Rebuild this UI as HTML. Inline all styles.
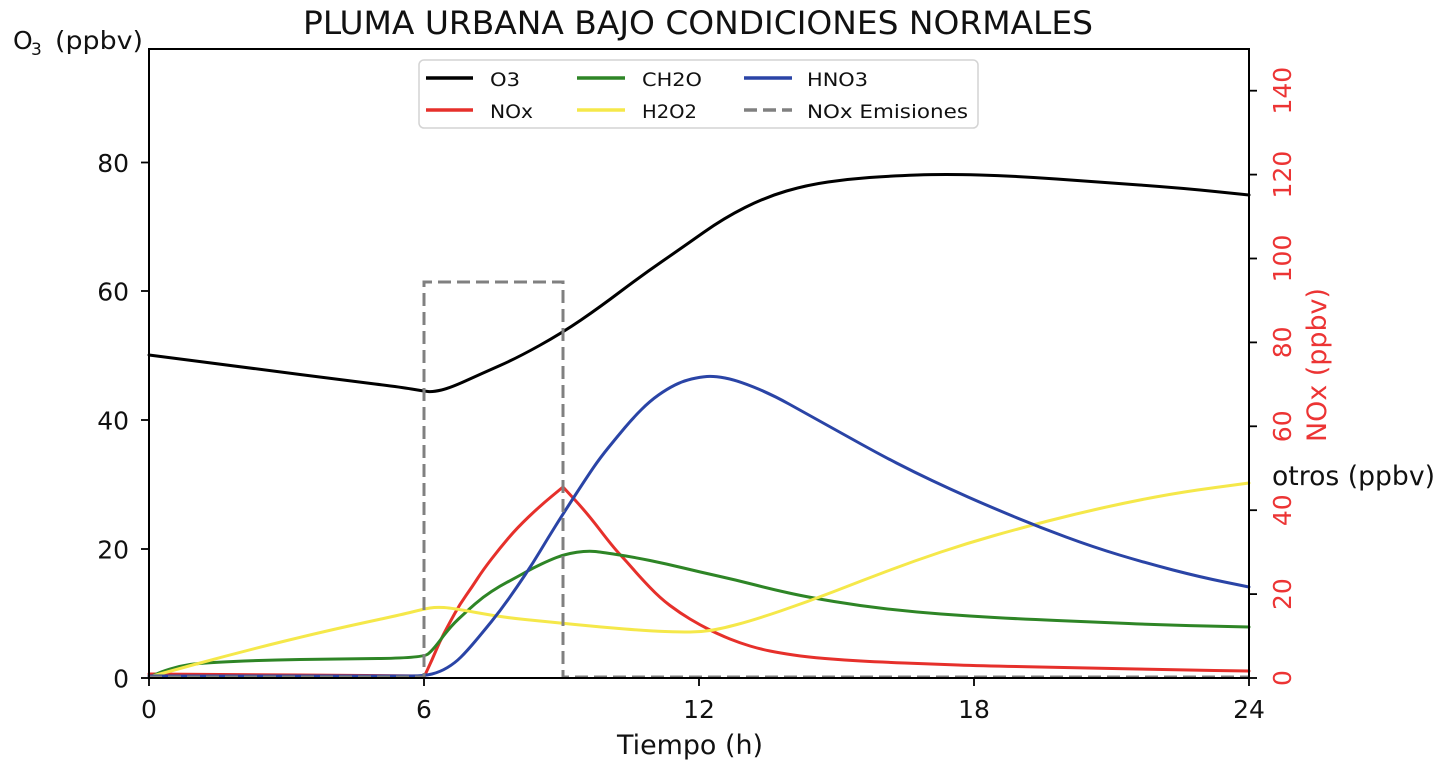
<!DOCTYPE html>
<html><head><meta charset="utf-8"><style>
html,body{margin:0;padding:0;background:#fff;}
svg{display:block;}
text{font-family:"DejaVu Sans","Liberation Sans",sans-serif;}
</style></head><body>
<svg width="1445" height="771" viewBox="0 0 1445 771" xmlns="http://www.w3.org/2000/svg">
<rect width="1445" height="771" fill="#fff"/>
<!-- title -->
<text x="303" y="34" font-size="32" fill="#111" textLength="790" lengthAdjust="spacingAndGlyphs">PLUMA URBANA BAJO CONDICIONES NORMALES</text>
<!-- y label left -->
<text x="13" y="49" font-size="25" fill="#111">O</text>
<text x="31" y="55" font-size="17" fill="#111">3</text>
<text x="55" y="49" font-size="25" fill="#111" textLength="88" lengthAdjust="spacingAndGlyphs">(ppbv)</text>

<g fill="none" stroke-linejoin="round" stroke-linecap="round" stroke-width="3">
<!-- O3 -->
<path stroke="#000" d="M149,355 L199.5,361.5 Q250,368 300,374.5 Q350,381 375,384 Q400,387 411.5,389 Q423,391 428,391.5 Q433,392 441.5,390 Q450,388 466.5,380.5 Q483,373 500,365.5 Q517,358 539.5,345.5 Q562,333 581,320 Q600,307 620.5,291.5 Q641,276 662,261.5 Q683,247 703.5,232.5 Q724,218 745,207.5 Q766,197 786.5,191 Q807,185 828,182 Q849,179 869.5,177.5 Q890,176 917,175 Q944,174 979.5,175 Q1015,176 1056.5,179 Q1098,182 1139.5,185 Q1181,188 1215,191.5 L1249,195"/>
<!-- NOx -->
<path stroke="#e6302b" d="M149,674 L300,675 L423,676 L424,677 L428,668.5 Q432,660 436,650.5 Q440,641 445,631.5 Q450,622 455,613 Q460,604 466,595.5 Q472,587 477.5,578.5 Q483,570 491.5,559 Q500,548 508.5,538 Q517,528 528.5,517 Q540,506 551.5,496.5 L563,487 L575,500 Q587,513 600,530 Q613,547 620,554.5 Q627,562 633.5,569.5 Q640,577 650,587.5 Q660,598 670,605.5 Q680,613 690,619 Q700,625 710,630 Q720,635 730,639 Q740,643 750,646 Q760,649 770,651 Q780,653 793.5,655 Q807,657 825,658.5 Q843,660 861,661 Q879,662 904.5,663 Q930,664 958,665 Q986,666 1039.5,667 Q1093,668 1136.5,669 Q1180,670 1214.5,670.5 L1249,671"/>
<!-- CH2O -->
<path stroke="#2e8526" d="M149,678 L154.5,675 Q160,672 170,669 Q180,666 190,664.5 Q200,663 233.5,661.5 Q267,660 300,659.5 Q333,659 378,658.5 Q423,658 428,654 Q433,650 441.5,638.5 Q450,627 458.5,619 Q467,611 475,604 Q483,597 491.5,591.5 Q500,586 508.5,581.5 Q517,577 525,572.5 Q533,568 541.5,564 Q550,560 556.5,557.5 Q563,555 570,553.5 Q577,552 583.5,551.5 Q590,551 595,551.5 Q600,552 616.5,554.5 Q633,557 650,560.5 Q667,564 683.5,568 Q700,572 718,576 Q736,580 753.5,584.5 Q771,589 789,593 Q807,597 834,601.5 Q861,606 887.5,609 Q914,612 941,614 Q968,616 994.5,617.5 Q1021,619 1057,620.5 Q1093,622 1128.5,623.5 Q1164,625 1206.5,626 L1249,627"/>
<!-- H2O2 -->
<path stroke="#f5e84a" d="M149,677 L194.5,664.5 Q240,652 285,641 Q330,630 365,622.5 Q400,615 412,612 Q424,609 430,608 Q436,607 444,607.5 Q452,608 476,612.5 Q500,617 525,619.5 Q550,622 575,624.5 Q600,627 625,629 Q650,631 665,631.5 Q680,632 690,632 Q700,632 710,630.5 Q720,629 737,624.5 Q754,620 780.5,611 Q807,602 834,591.5 Q861,581 887.5,571 Q914,561 941,552 Q968,543 994.5,535.5 Q1021,528 1048,521 Q1075,514 1102,508 Q1129,502 1155.5,497 Q1182,492 1215.5,487.5 L1249,483"/>
<!-- HNO3 -->
<path stroke="#2a44a6" d="M149,676 L412,676 Q424,676 432,674 Q440,672 447.5,667.5 Q455,663 461,657 Q467,651 475,641.5 Q483,632 491.5,621.5 Q500,611 508.5,599 Q517,587 525,575 Q533,563 540.5,550.5 Q548,538 555.5,526 Q563,514 575,495.5 Q587,477 593.5,467.5 Q600,458 608.5,447.5 Q617,437 625,427.5 Q633,418 641.5,409.5 Q650,401 658.5,395 Q667,389 675,385 Q683,381 691.5,379 Q700,377 707,376.5 Q714,376 725,378 Q736,380 753.5,387 Q771,394 789,404 Q807,414 825,424 Q843,434 861,444 Q879,454 896.5,463 Q914,472 932,480.5 Q950,489 968,497 Q986,505 1012.5,516 Q1039,527 1066,537 Q1093,547 1119.5,555 Q1146,563 1173,570 Q1200,577 1224.5,582 L1249,587"/>
<!-- NOx emissions -->
<path stroke="#808080" stroke-linecap="butt" stroke-linejoin="miter" stroke-dasharray="13 6" d="M149,677 L424,677 L424,282 L563,282 L563,677 L1249,677"/>
</g>

<!-- axes frame -->
<rect x="149" y="49" width="1100" height="629" fill="none" stroke="#000" stroke-width="2"/>

<g stroke="#000" stroke-width="1.8">
<line x1="141" y1="678" x2="149" y2="678"/>
<line x1="141" y1="549" x2="149" y2="549"/>
<line x1="141" y1="420" x2="149" y2="420"/>
<line x1="141" y1="291" x2="149" y2="291"/>
<line x1="141" y1="162.5" x2="149" y2="162.5"/>
<line x1="149" y1="678" x2="149" y2="686"/>
<line x1="424" y1="678" x2="424" y2="686"/>
<line x1="699" y1="678" x2="699" y2="686"/>
<line x1="974" y1="678" x2="974" y2="686"/>
<line x1="1249" y1="678" x2="1249" y2="686"/>
<line x1="1249" y1="678" x2="1257" y2="678"/>
<line x1="1249" y1="594.1" x2="1257" y2="594.1"/>
<line x1="1249" y1="510.2" x2="1257" y2="510.2"/>
<line x1="1249" y1="426.3" x2="1257" y2="426.3"/>
<line x1="1249" y1="342.4" x2="1257" y2="342.4"/>
<line x1="1249" y1="258.5" x2="1257" y2="258.5"/>
<line x1="1249" y1="174.6" x2="1257" y2="174.6"/>
<line x1="1249" y1="90.7" x2="1257" y2="90.7"/>
</g>

<g font-size="25" fill="#111" text-anchor="end">
<text x="129" y="687.5">0</text>
<text x="129" y="558.5">20</text>
<text x="129" y="429.5">40</text>
<text x="129" y="300.5">60</text>
<text x="129" y="172">80</text>
</g>
<g font-size="25" fill="#111" text-anchor="middle">
<text x="149" y="718">0</text>
<text x="424" y="718">6</text>
<text x="699" y="718">12</text>
<text x="974" y="718">18</text>
<text x="1249" y="718">24</text>
</g>
<text x="617" y="754" font-size="27" fill="#111" textLength="146" lengthAdjust="spacingAndGlyphs">Tiempo (h)</text>

<g font-size="25" fill="#ec3434" text-anchor="middle">
<text transform="translate(1291,678) rotate(-90)">0</text>
<text transform="translate(1291,594.1) rotate(-90)">20</text>
<text transform="translate(1291,510.2) rotate(-90)">40</text>
<text transform="translate(1291,426.3) rotate(-90)">60</text>
<text transform="translate(1291,342.4) rotate(-90)">80</text>
<text transform="translate(1291,258.5) rotate(-90)">100</text>
<text transform="translate(1291,174.6) rotate(-90)">120</text>
<text transform="translate(1291,90.7) rotate(-90)">140</text>
</g>
<text transform="translate(1326,365) rotate(-90)" font-size="27" fill="#ec3434" text-anchor="middle" textLength="154" lengthAdjust="spacingAndGlyphs">NOx (ppbv)</text>
<text x="1272" y="485" font-size="27" fill="#111" textLength="163" lengthAdjust="spacingAndGlyphs">otros (ppbv)</text>

<!-- legend -->
<rect x="419" y="60" width="559" height="68" rx="5" fill="#fff" fill-opacity="0.9" stroke="#d4d4d4" stroke-width="1.5"/>
<g stroke-width="3.5" fill="none">
<line x1="426" y1="78" x2="473" y2="78" stroke="#000"/>
<line x1="426" y1="110" x2="473" y2="110" stroke="#e6302b"/>
<line x1="577" y1="78" x2="625" y2="78" stroke="#2e8526"/>
<line x1="577" y1="110" x2="625" y2="110" stroke="#f5e84a"/>
<line x1="744" y1="78" x2="792" y2="78" stroke="#2a44a6"/>
<line x1="744" y1="110" x2="792" y2="110" stroke="#808080" stroke-dasharray="13 6"/>
</g>
<g font-size="19" fill="#111">
<text x="490" y="86" textLength="30" lengthAdjust="spacingAndGlyphs">O3</text>
<text x="490" y="118" textLength="43" lengthAdjust="spacingAndGlyphs">NOx</text>
<text x="642" y="86" textLength="60" lengthAdjust="spacingAndGlyphs">CH2O</text>
<text x="642" y="118" textLength="55" lengthAdjust="spacingAndGlyphs">H2O2</text>
<text x="807" y="86" textLength="61" lengthAdjust="spacingAndGlyphs">HNO3</text>
<text x="807" y="118" textLength="161" lengthAdjust="spacingAndGlyphs">NOx Emisiones</text>
</g>
</svg>
</body></html>
